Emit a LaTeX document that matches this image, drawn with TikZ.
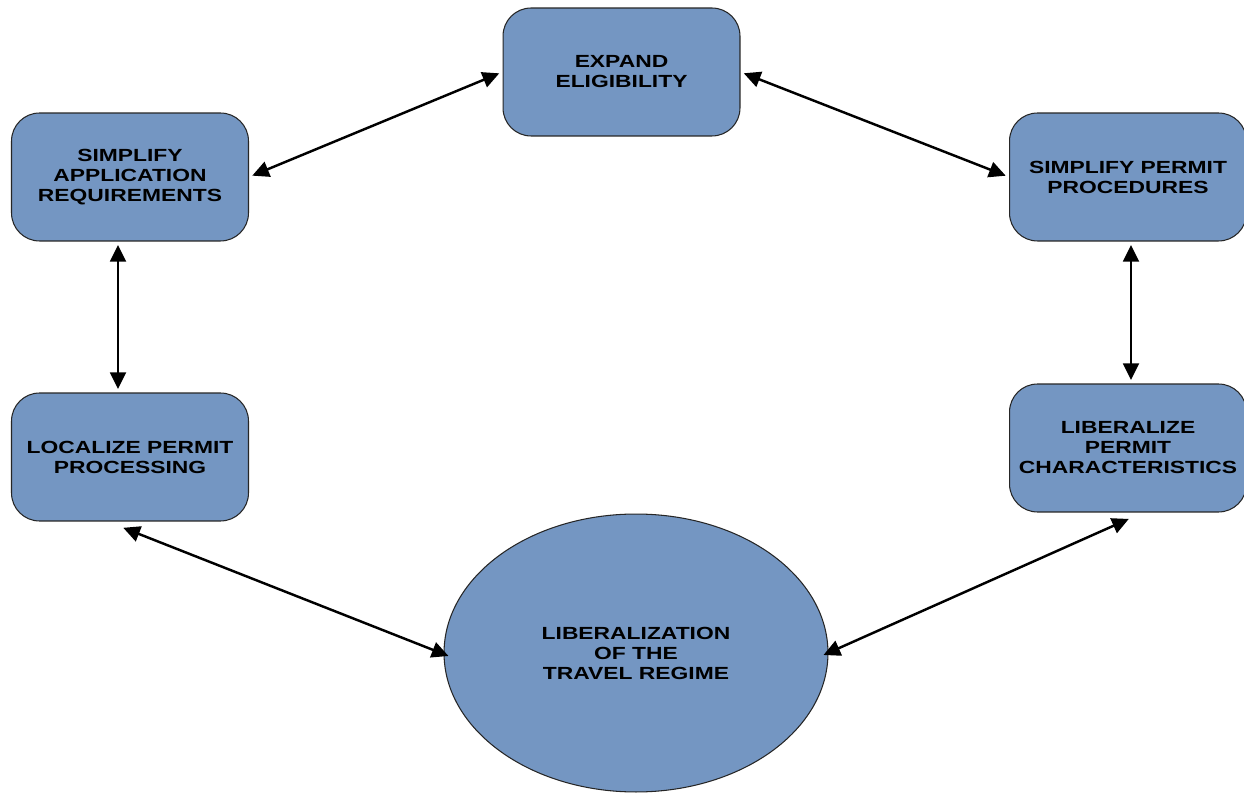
\documentclass[tikz,border=0pt]{standalone}
\usepackage{fontspec}
\setmainfont{Liberation Sans}[FakeStretch=1.3]
\usetikzlibrary{arrows.meta,calc,shapes.geometric}
\definecolor{boxblue}{RGB}{116,150,194}
\tikzset{
  box/.style={draw=black!85, line width=0.6pt, fill=boxblue, rounded corners=0.56cm,
    minimum width=4.74cm, minimum height=2.56cm, align=center, inner sep=0pt,
    font=\fontsize{10}{11.4}\selectfont\bfseries},
  oval/.style={draw=black!85, line width=0.6pt, fill=boxblue, ellipse,
    minimum width=7.68cm, minimum height=5.56cm, align=center, inner sep=0pt,
    font=\fontsize{10}{11.4}\selectfont\bfseries},
  link/.style={line width=1.4pt, {Triangle[length=9.5pt,width=9pt]}-{Triangle[length=9.5pt,width=9pt]}, shorten <=2pt, shorten >=2pt}
}
\begin{document}
\begin{tikzpicture}[x=0.02cm,y=-0.02cm]
\clip (0,0) rectangle (1244,793);
\fill[white] (0,0) rectangle (1244,793);
\node[box] (exp) at (621.5,72) {EXPAND\\ELIGIBILITY};
\node[box] (app) at (130,177) {SIMPLIFY\\APPLICATION\\REQUIREMENTS};
\node[box] (proc) at (1128,177) {SIMPLIFY PERMIT\\PROCEDURES};
\node[box] (loc) at (130,457) {LOCALIZE PERMIT\\PROCESSING};
\node[box] (lib) at (1128,448) {LIBERALIZE\\PERMIT\\CHARACTERISTICS};
\node[oval] (reg) at (636,653) {LIBERALIZATION\\OF THE\\TRAVEL REGIME};
\draw[link] (app.east) -- (exp.west);
\draw[link] (exp.east) -- (proc.west);
\draw[link] ([xshift=-0.24cm]app.south) -- ([xshift=-0.24cm]loc.north);
\draw[link] ([xshift=0.06cm]proc.south) -- ([xshift=0.06cm]lib.north);
\draw[link, shorten >=0pt] ([xshift=-0.2cm,yshift=-0.1cm]loc.south) -- ([xshift=0.1cm,yshift=-0.06cm]reg.west);
\draw[link, shorten <=0pt] ([xshift=-0.1cm,yshift=-0.04cm]reg.east) -- ([xshift=0.08cm,yshift=-0.1cm]lib.south);
\end{tikzpicture}
\end{document}
